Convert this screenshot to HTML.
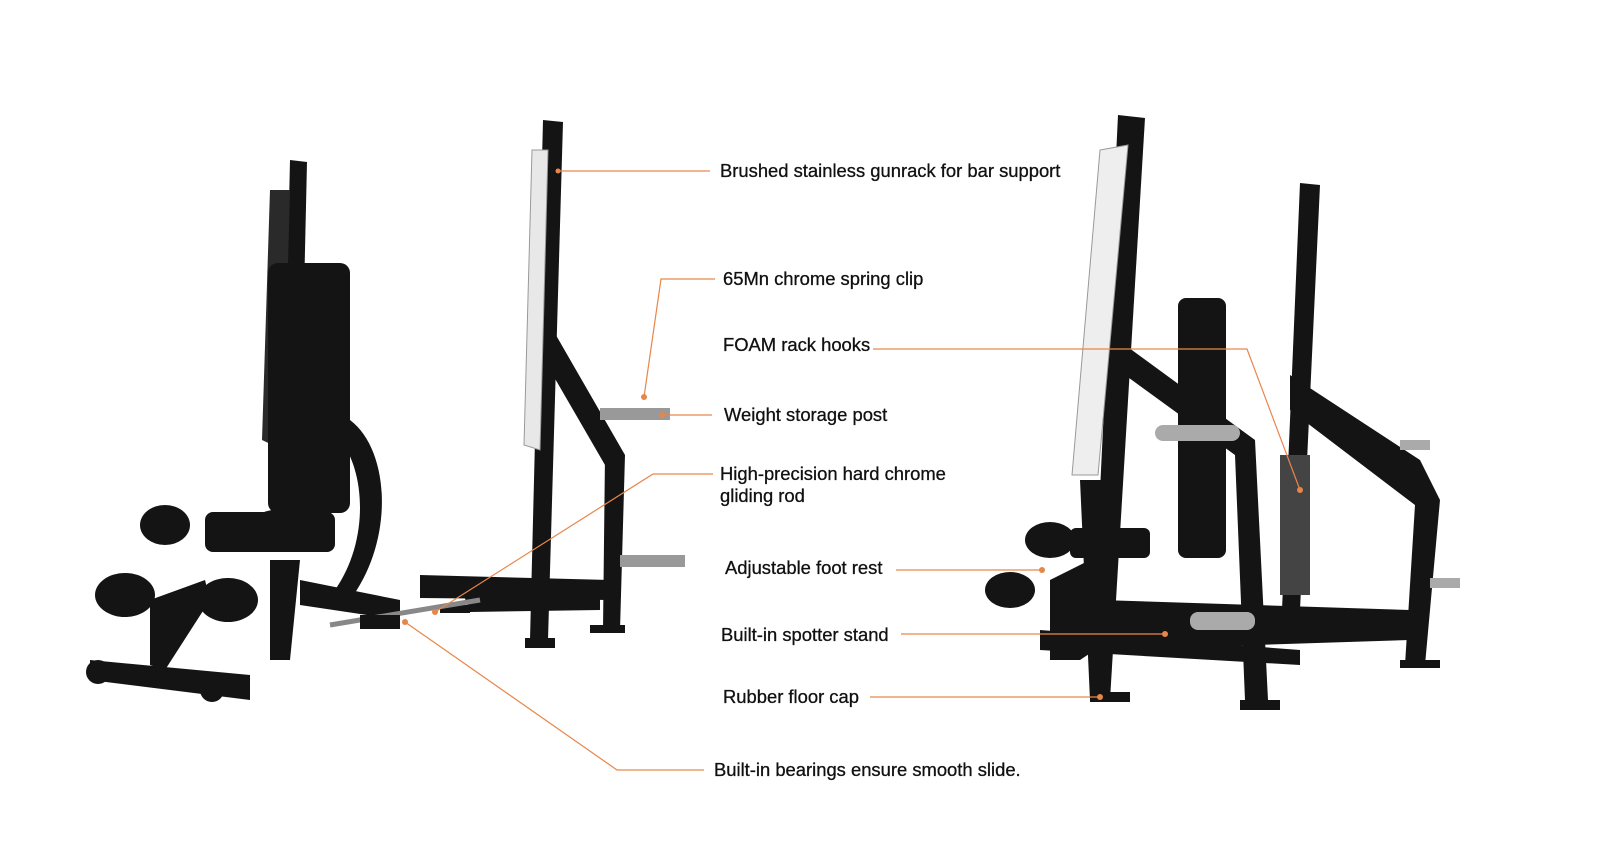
<!DOCTYPE html>
<html><head><meta charset="utf-8"><style>
html,body{margin:0;padding:0;background:#fff;}
.w{position:relative;width:1600px;height:841px;overflow:hidden;font-family:"Liberation Sans",sans-serif;}
.t{position:absolute;font-size:18.4px;color:#111;white-space:nowrap;line-height:22px;-webkit-text-stroke:0.3px #111;}
svg{position:absolute;left:0;top:0;}
</style></head><body><div class="w">
<svg width="1600" height="841" viewBox="0 0 1600 841">
<g fill="#141414" stroke="none">
<polygon points="290,160 307,162 300,470 283,470"/>
<polygon points="270,190 290,190 283,450 262,440" fill="#2a2a2a"/>
<rect x="268" y="263" width="82" height="250" rx="10"/>
<path d="M350,420 C390,450 395,540 350,600 L335,590 C370,540 365,470 340,440Z"/>
<rect x="205" y="512" width="130" height="40" rx="8"/>
<ellipse cx="165" cy="525" rx="25" ry="20"/>
<ellipse cx="275" cy="530" rx="25" ry="20"/>
<ellipse cx="125" cy="595" rx="30" ry="22"/>
<ellipse cx="228" cy="600" rx="30" ry="22"/>
<polygon points="150,600 205,580 210,600 165,670 150,665"/>
<polygon points="90,660 250,675 250,700 90,680"/>
<circle cx="98" cy="672" r="12"/><circle cx="212" cy="690" r="12"/>
<polygon points="270,560 300,560 290,660 270,660"/>
<polygon points="300,580 400,600 400,620 300,605"/>
<polygon points="543,120 563,122 548,640 530,640"/>
<polygon points="532,150 548,150 540,450 524,445" fill="#e8e8e8" stroke="#999" stroke-width="1"/>
<polygon points="553,330 625,455 605,465 550,370"/>
<polygon points="605,455 625,455 620,630 603,630"/>
<polygon points="420,575 610,580 610,600 420,598"/>
<polygon points="460,585 600,585 600,610 470,612"/>
<rect x="525" y="638" width="30" height="10"/>
<rect x="590" y="625" width="35" height="8"/>
<rect x="440" y="605" width="30" height="8"/>
<rect x="600" y="408" width="70" height="12" fill="#999"/>
<rect x="620" y="555" width="65" height="12" fill="#999"/>
<line x1="330" y1="625" x2="480" y2="600" stroke="#888" stroke-width="5"/>
<rect x="360" y="615" width="40" height="14"/>
<polygon points="1118,115 1145,118 1110,700 1090,700"/>
<polygon points="1100,150 1128,145 1098,475 1072,475" fill="#eeeeee" stroke="#999" stroke-width="1"/>
<polygon points="1300,183 1320,185 1300,610 1282,610"/>
<rect x="1178" y="298" width="48" height="260" rx="8"/>
<path d="M1125,345 L1255,440 L1268,700 L1245,700 L1235,455 L1125,375Z"/>
<path d="M1290,375 L1420,460 L1440,500 L1425,665 L1405,665 L1415,505 L1290,410Z"/>
<rect x="1280" y="455" width="30" height="140" fill="#444"/>
<polygon points="1080,480 1105,480 1110,700 1090,700"/>
<polygon points="1100,600 1410,610 1410,640 1100,650"/>
<polygon points="1040,630 1300,650 1300,665 1040,650"/>
<ellipse cx="1050" cy="540" rx="25" ry="18"/>
<ellipse cx="1010" cy="590" rx="25" ry="18"/>
<rect x="1070" y="528" width="80" height="30" rx="6"/>
<polygon points="1050,580 1090,560 1110,640 1080,660 1050,660"/>
<rect x="1090" y="692" width="40" height="10"/>
<rect x="1240" y="700" width="40" height="10"/>
<rect x="1400" y="660" width="40" height="8"/>
<rect x="1155" y="425" width="85" height="16" rx="8" fill="#aaa"/>
<rect x="1190" y="612" width="65" height="18" rx="8" fill="#aaa"/>
<rect x="1430" y="578" width="30" height="10" fill="#aaa"/>
<rect x="1400" y="440" width="30" height="10" fill="#aaa"/>
</g>
<g stroke="#e8864a" stroke-width="1.2" fill="none">
<polyline points="558,171 710,171"/>
<polyline points="715,279 661,279 644,397"/>
<polyline points="873,349 1247,349 1300,490"/>
<polyline points="662,415 712,415"/>
<polyline points="713,474 653,474 435,612"/>
<polyline points="896,570 1042,570"/>
<polyline points="901,634 1165,634"/>
<polyline points="870,697 1100,697"/>
<polyline points="704,770 617,770 405,622"/>
</g>
<g fill="#e8864a">
<circle cx="558" cy="171" r="2.5"/><circle cx="644" cy="397" r="3"/><circle cx="1300" cy="490" r="3"/>
<circle cx="662" cy="415" r="3"/><circle cx="435" cy="612" r="3"/><circle cx="1042" cy="570" r="3"/>
<circle cx="1165" cy="634" r="3"/><circle cx="1100" cy="697" r="3"/><circle cx="405" cy="622" r="3"/>
</g>
</svg>
<div class="t" style="left:720px;top:160px">Brushed stainless gunrack for bar support</div>
<div class="t" style="left:723px;top:268px">65Mn chrome spring clip</div>
<div class="t" style="left:723px;top:334px">FOAM rack hooks</div>
<div class="t" style="left:724px;top:404px">Weight storage post</div>
<div class="t" style="left:720px;top:463px">High-precision hard chrome<br>gliding rod</div>
<div class="t" style="left:725px;top:557px">Adjustable foot rest</div>
<div class="t" style="left:721px;top:624px">Built-in spotter stand</div>
<div class="t" style="left:723px;top:686px">Rubber floor cap</div>
<div class="t" style="left:714px;top:759px">Built-in bearings ensure smooth slide.</div>
</div></body></html>
